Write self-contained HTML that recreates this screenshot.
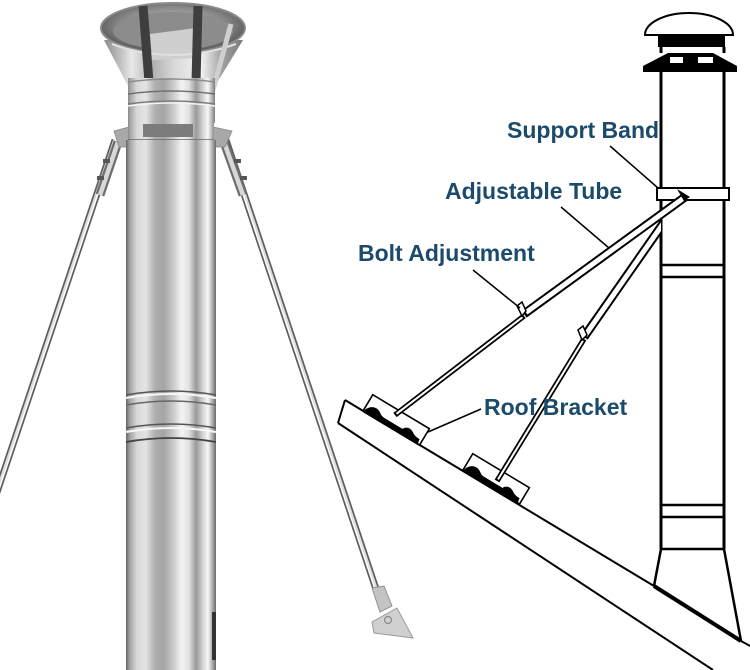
<!DOCTYPE html>
<html>
<head>
<meta charset="utf-8">
<style>
html,body{margin:0;padding:0;background:#fff;}
svg{display:block;}
.lbl{font-family:"Liberation Sans",sans-serif;font-weight:bold;font-size:23px;fill:#1b4a6b;}
</style>
</head>
<body>
<svg width="750" height="670" viewBox="0 0 750 670" xmlns="http://www.w3.org/2000/svg">
<defs>
  <linearGradient id="pg" gradientUnits="userSpaceOnUse" x1="126" y1="0" x2="216" y2="0">
    <stop offset="0" stop-color="#666"/>
    <stop offset="0.04" stop-color="#a0a0a0"/>
    <stop offset="0.12" stop-color="#d8d8d8"/>
    <stop offset="0.22" stop-color="#e4e4e4"/>
    <stop offset="0.32" stop-color="#b0b0b0"/>
    <stop offset="0.42" stop-color="#a4a4a4"/>
    <stop offset="0.52" stop-color="#c8c8c8"/>
    <stop offset="0.62" stop-color="#f4f4f4"/>
    <stop offset="0.70" stop-color="#e0e0e0"/>
    <stop offset="0.78" stop-color="#9a9a9a"/>
    <stop offset="0.85" stop-color="#d0d0d0"/>
    <stop offset="0.91" stop-color="#f8f8f8"/>
    <stop offset="0.96" stop-color="#acacac"/>
    <stop offset="1" stop-color="#6a6a6a"/>
  </linearGradient>
  <linearGradient id="cg" gradientUnits="userSpaceOnUse" x1="104" y1="0" x2="243" y2="0">
    <stop offset="0" stop-color="#8a8a8a"/>
    <stop offset="0.2" stop-color="#e8e8e8"/>
    <stop offset="0.35" stop-color="#b0b0b0"/>
    <stop offset="0.5" stop-color="#d8d8d8"/>
    <stop offset="0.7" stop-color="#f2f2f2"/>
    <stop offset="0.85" stop-color="#a0a0a0"/>
    <stop offset="1" stop-color="#7a7a7a"/>
  </linearGradient>
  <radialGradient id="hg" cx="0.5" cy="0.45" r="0.6">
    <stop offset="0" stop-color="#c8c8c8"/>
    <stop offset="0.6" stop-color="#8a8a8a"/>
    <stop offset="1" stop-color="#4a4a4a"/>
  </radialGradient>
  <clipPath id="leftOfPipe"><rect x="0" y="0" width="661" height="670"/></clipPath>
</defs>
<rect width="750" height="670" fill="#fff"/>

<!-- ============ LEFT PHOTO ============ -->
<g>
  <line x1="115" y1="140" x2="-9" y2="510" stroke="#5e5e5e" stroke-width="7"/>
  <line x1="115" y1="140" x2="-9" y2="510" stroke="#dedede" stroke-width="3.6"/>
  <line x1="116" y1="140" x2="-8" y2="510" stroke="#ffffff" stroke-width="1.3"/>
  <line x1="118" y1="142" x2="100" y2="195" stroke="#6e6e6e" stroke-width="9"/>
  <line x1="118" y1="142" x2="100" y2="195" stroke="#d8d8d8" stroke-width="4.5"/>
  <rect x="103" y="159" width="7" height="4" fill="#555"/>
  <rect x="97" y="176" width="7" height="4" fill="#555"/>

  <line x1="226" y1="140" x2="378" y2="595" stroke="#5e5e5e" stroke-width="7"/>
  <line x1="226" y1="140" x2="378" y2="595" stroke="#dedede" stroke-width="3.6"/>
  <line x1="225" y1="140" x2="377" y2="595" stroke="#ffffff" stroke-width="1.3"/>
  <line x1="224" y1="142" x2="243" y2="195" stroke="#6e6e6e" stroke-width="9"/>
  <line x1="224" y1="142" x2="243" y2="195" stroke="#d8d8d8" stroke-width="4.5"/>
  <rect x="234" y="159" width="7" height="4" fill="#555"/>
  <rect x="240" y="176" width="7" height="4" fill="#555"/>
  <polygon points="372,588 384,586 392,606 380,612" fill="#c4c4c4" stroke="#909090" stroke-width="1"/>
  <polygon points="372,622 397,608 413,638 374,633" fill="#d0d0d0" stroke="#999" stroke-width="1"/>
  <circle cx="388" cy="620" r="3.5" fill="none" stroke="#888" stroke-width="1.2"/>
</g>

<!-- cap -->
<polygon points="104,40 128,86 215,86 243,40" fill="url(#cg)"/>
<ellipse cx="173" cy="28" rx="72" ry="25" fill="url(#hg)" stroke="#8a8a8a" stroke-width="2"/>
<ellipse cx="173" cy="31" rx="60" ry="19" fill="#8c8c8c"/>
<polygon points="150,34 196,28 199,58 152,60" fill="#cfcfcf"/>
<path d="M112,44 Q173,66 236,44" fill="none" stroke="#e0e0e0" stroke-width="2"/>
<line x1="143" y1="6" x2="149" y2="82" stroke="#3e3e3e" stroke-width="9"/>
<line x1="198" y1="6" x2="196" y2="82" stroke="#3e3e3e" stroke-width="9"/>
<line x1="231" y1="24" x2="213" y2="90" stroke="#cfcfcf" stroke-width="5"/>

<!-- collar -->
<rect x="128" y="78" width="87" height="45" fill="url(#pg)"/>
<path d="M128,82 Q171,76 215,82" fill="none" stroke="#8a8a8a" stroke-width="1.5"/>
<path d="M128,94 Q171,88 215,94" fill="none" stroke="#6e6e6e" stroke-width="1.5"/>
<path d="M128,104 Q171,98 215,104" fill="none" stroke="#7a7a7a" stroke-width="1.5"/>
<path d="M128,106 Q171,100 215,106" fill="none" stroke="#f4f4f4" stroke-width="1.5"/>

<!-- brackets -->
<polygon points="114,131 129,127 129,147 119,147" fill="#a8a8a8" stroke="#888" stroke-width="0.8"/>
<polygon points="213,127 232,131 225,147 213,147" fill="#a8a8a8" stroke="#888" stroke-width="0.8"/>

<!-- support band -->
<rect x="128" y="122" width="86" height="18" fill="url(#pg)"/>
<rect x="143" y="124" width="50" height="13" fill="#7c7c7c"/>
<line x1="128" y1="140" x2="214" y2="140" stroke="#666" stroke-width="1.5"/>

<!-- pipe -->
<rect x="126" y="140" width="90" height="530" fill="url(#pg)"/>
<path d="M126,395 Q171,387 216,395" fill="none" stroke="#555" stroke-width="1.5"/>
<path d="M126,398 Q171,390 216,398" fill="none" stroke="#f6f6f6" stroke-width="2"/>
<path d="M126,405 Q171,397 216,405" fill="none" stroke="#666" stroke-width="1.5"/>
<path d="M126,428 Q171,420 216,428" fill="none" stroke="#555" stroke-width="1.5"/>
<path d="M126,432 Q171,424 216,432" fill="none" stroke="#f6f6f6" stroke-width="2"/>
<path d="M126,442 Q171,434 216,442" fill="none" stroke="#444" stroke-width="1.8"/>
<rect x="212" y="612" width="4" height="48" fill="#333"/>

<!-- ============ RIGHT DIAGRAM ============ -->
<g stroke="#000" fill="none" stroke-linecap="butt">
  <line x1="345" y1="400" x2="654" y2="586" stroke-width="2"/>
  <line x1="654" y1="586" x2="741" y2="641" stroke-width="4"/>
  <line x1="741" y1="641" x2="752" y2="647" stroke-width="2"/>
  <line x1="345" y1="400" x2="338" y2="423" stroke-width="2"/>
  <line x1="338" y1="423" x2="713" y2="670" stroke-width="2"/>

  <path d="M645,35 A44 22 0 0 1 733,35 Z" fill="#fff" stroke-width="2"/>
  <rect x="658" y="35" width="67" height="12" fill="#000" stroke="none"/>
  <polygon points="643,72 643,66 668,53 713,53 737,66 737,72" fill="#000" stroke="none"/>
  <rect x="670" y="57" width="13" height="6" fill="#fff" stroke="none"/>
  <rect x="698" y="57" width="15" height="6" fill="#fff" stroke="none"/>
  <line x1="661" y1="47" x2="661" y2="53" stroke-width="3"/>
  <line x1="724" y1="47" x2="724" y2="53" stroke-width="3"/>
  <line x1="661" y1="72" x2="661" y2="549" stroke-width="3"/>
  <line x1="724" y1="72" x2="724" y2="549" stroke-width="3"/>
  <line x1="661" y1="265" x2="724" y2="265" stroke-width="2.5"/>
  <line x1="661" y1="277" x2="724" y2="277" stroke-width="2.5"/>
  <line x1="661" y1="505" x2="724" y2="505" stroke-width="2.5"/>
  <line x1="661" y1="517" x2="724" y2="517" stroke-width="2.5"/>
  <line x1="660" y1="549" x2="725" y2="549" stroke-width="2.5"/>
  <line x1="661" y1="549" x2="654" y2="586" stroke-width="2.5"/>
  <line x1="724" y1="549" x2="741" y2="641" stroke-width="2.5"/>

  <rect x="657" y="188" width="72" height="12" fill="#fff" stroke-width="2"/>
</g>

<!-- roof brackets -->
<g transform="translate(363,411) rotate(31)">
  <rect x="0" y="-19" width="66" height="19" fill="#fff" stroke="#000" stroke-width="1.6"/>
  <path d="M1,-2 C3,-7 7,-10 12,-9 C16,-8 17,-5 22,-5 L43,-5 C45,-9 49,-10 53,-8 C56,-6 58,-5 63,-5 L64,1 L1,1 Z" fill="#000"/>
</g>
<g transform="translate(463,470) rotate(31)">
  <rect x="0" y="-19" width="66" height="19" fill="#fff" stroke="#000" stroke-width="1.6"/>
  <path d="M1,-2 C3,-7 7,-10 12,-9 C16,-8 17,-5 22,-5 L43,-5 C45,-9 49,-10 53,-8 C56,-6 58,-5 63,-5 L64,1 L1,1 Z" fill="#000"/>
</g>

<!-- struts -->
<g stroke-linecap="butt">
  <line x1="685" y1="197" x2="524" y2="314" stroke="#000" stroke-width="9"/>
  <line x1="683" y1="198.5" x2="526" y2="312.5" stroke="#fff" stroke-width="5"/>
  <line x1="524" y1="316" x2="395" y2="415" stroke="#000" stroke-width="5.5"/>
  <line x1="522.5" y1="317.2" x2="396.5" y2="413.8" stroke="#fff" stroke-width="2"/>
  <polygon points="677,189 690,197 684,201" fill="#000"/>
  <path d="M517,306 L522,302 L526,311 L522,316 Z" fill="#fff" stroke="#000" stroke-width="1.5"/>
  <g clip-path="url(#leftOfPipe)">
    <line x1="667" y1="218" x2="584" y2="337" stroke="#000" stroke-width="9"/>
    <line x1="667" y1="218" x2="585.2" y2="335.3" stroke="#fff" stroke-width="5"/>
  </g>
  <line x1="584" y1="339" x2="497" y2="481" stroke="#000" stroke-width="5.5"/>
  <line x1="583" y1="340.6" x2="498" y2="479.4" stroke="#fff" stroke-width="2"/>
  <path d="M578,330 L583,326 L587,335 L582,340 Z" fill="#fff" stroke="#000" stroke-width="1.5"/>
</g>

<!-- leader lines -->
<g stroke="#000" stroke-width="1.5">
  <line x1="610" y1="146" x2="658" y2="188"/>
  <line x1="561" y1="207" x2="609" y2="248"/>
  <line x1="473" y1="270" x2="520" y2="308"/>
  <line x1="481" y1="409" x2="428" y2="432"/>
</g>

<!-- labels -->
<text class="lbl" x="507" y="138">Support Band</text>
<text class="lbl" x="445" y="199">Adjustable Tube</text>
<text class="lbl" x="358" y="261">Bolt Adjustment</text>
<text class="lbl" x="484" y="415">Roof Bracket</text>
</svg>
</body>
</html>
